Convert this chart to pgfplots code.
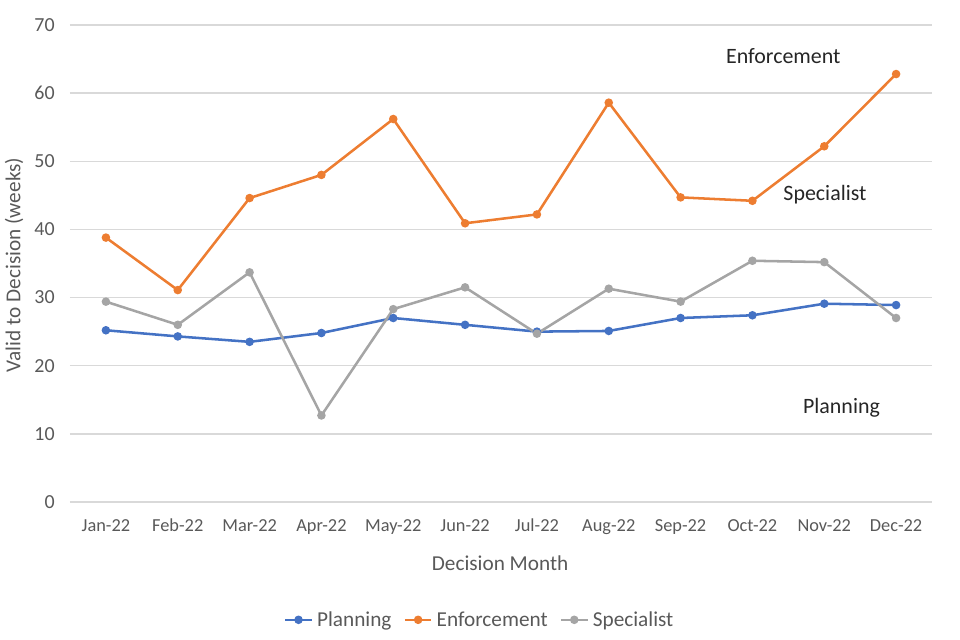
\documentclass[border=0pt]{standalone}
\usepackage{pgfplots}
\pgfplotsset{compat=1.18}
\usepackage{fontspec}
\setmainfont{Carlito}

\definecolor{planC}{HTML}{4472C4}
\definecolor{enfC}{HTML}{ED7D31}
\definecolor{specC}{HTML}{A5A5A5}
\definecolor{gridC}{HTML}{D9D9D9}
\definecolor{tickC}{HTML}{595959}

\begin{document}
\begin{tikzpicture}[x=1bp,y=1bp]
  \useasboundingbox (0,0) rectangle (720,480);
  \begin{axis}[
    at={(52.5bp,103.5bp)},
    anchor=south west,
    scale only axis,
    width=646.5bp,
    height=357.75bp,
    xmin=-0.5, xmax=11.5,
    ymin=0, ymax=70,
    ytick={0,10,...,70},
    xtick={0,...,11},
    xticklabels={Jan-22,Feb-22,Mar-22,Apr-22,May-22,Jun-22,Jul-22,Aug-22,Sep-22,Oct-22,Nov-22,Dec-22},
    axis line style={draw=none},
    major tick length=0pt,
    ymajorgrids=true,
    grid style={gridC, line width=1bp},
    /pgf/number format/assume math mode=true,
    xticklabel style={font=\fontsize{13.8}{16}\selectfont, text=tickC, yshift=-11bp,
      text height=1.6ex, text depth=0.4ex},
    yticklabel style={font=\fontsize{15}{17}\selectfont, text=tickC, xshift=-8bp},
    xlabel={Decision Month},
    ylabel={Valid to Decision (weeks)},
    label style={font=\fontsize{16}{18}\selectfont, text=tickC},
    xlabel style={at={(axis description cs:0.499,-0.128)}, anchor=center},
    ylabel style={at={(axis description cs:-0.065,0.497)}, anchor=center},
    legend style={
      at={(axis description cs:0.4756,-0.247)},
      anchor=center,
      legend columns=3,
      draw=none,
      fill=none,
      font=\fontsize{16}{18}\selectfont,
      text=tickC,
      /tikz/every odd column/.append style={column sep=1bp},
      /tikz/every even column/.append style={column sep=7bp},
    },
    legend image code/.code={%
      \draw[#1, mark=none] (0bp,0bp) -- (20bp,0bp);
      \fill[#1] (10bp,0bp) circle (2.2bp);
    },
    every axis plot/.append style={line width=1.9bp, mark=*, mark size=2.2bp},
    clip=false,
  ]
  \addplot[planC, mark options={fill=planC, draw=planC}] coordinates {
    (0,25.2) (1,24.3) (2,23.5) (3,24.8) (4,27.0) (5,26.0)
    (6,25.0) (7,25.1) (8,27.0) (9,27.4) (10,29.1) (11,28.9)
  };
  \addplot[enfC, mark options={fill=enfC, draw=enfC}] coordinates {
    (0,38.8) (1,31.1) (2,44.6) (3,48.0) (4,56.2) (5,40.9)
    (6,42.2) (7,58.6) (8,44.7) (9,44.2) (10,52.2) (11,62.8)
  };
  \addplot[specC, mark options={fill=specC, draw=specC}] coordinates {
    (0,29.4) (1,26.0) (2,33.7) (3,12.7) (4,28.3) (5,31.5)
    (6,24.7) (7,31.3) (8,29.4) (9,35.4) (10,35.2) (11,27.0)
  };
  \legend{Planning, Enforcement, Specialist}

  \node[font=\fontsize{16.5}{18}\selectfont, text=black!85] at (axis cs:9.43,65.45) {Enforcement};
  \node[font=\fontsize{16.5}{18}\selectfont, text=black!85] at (axis cs:10.01,45.05) {Specialist};
  \node[font=\fontsize{16.5}{18}\selectfont, text=black!85] at (axis cs:10.24,13.8) {Planning};
  \end{axis}
\end{tikzpicture}
\end{document}
